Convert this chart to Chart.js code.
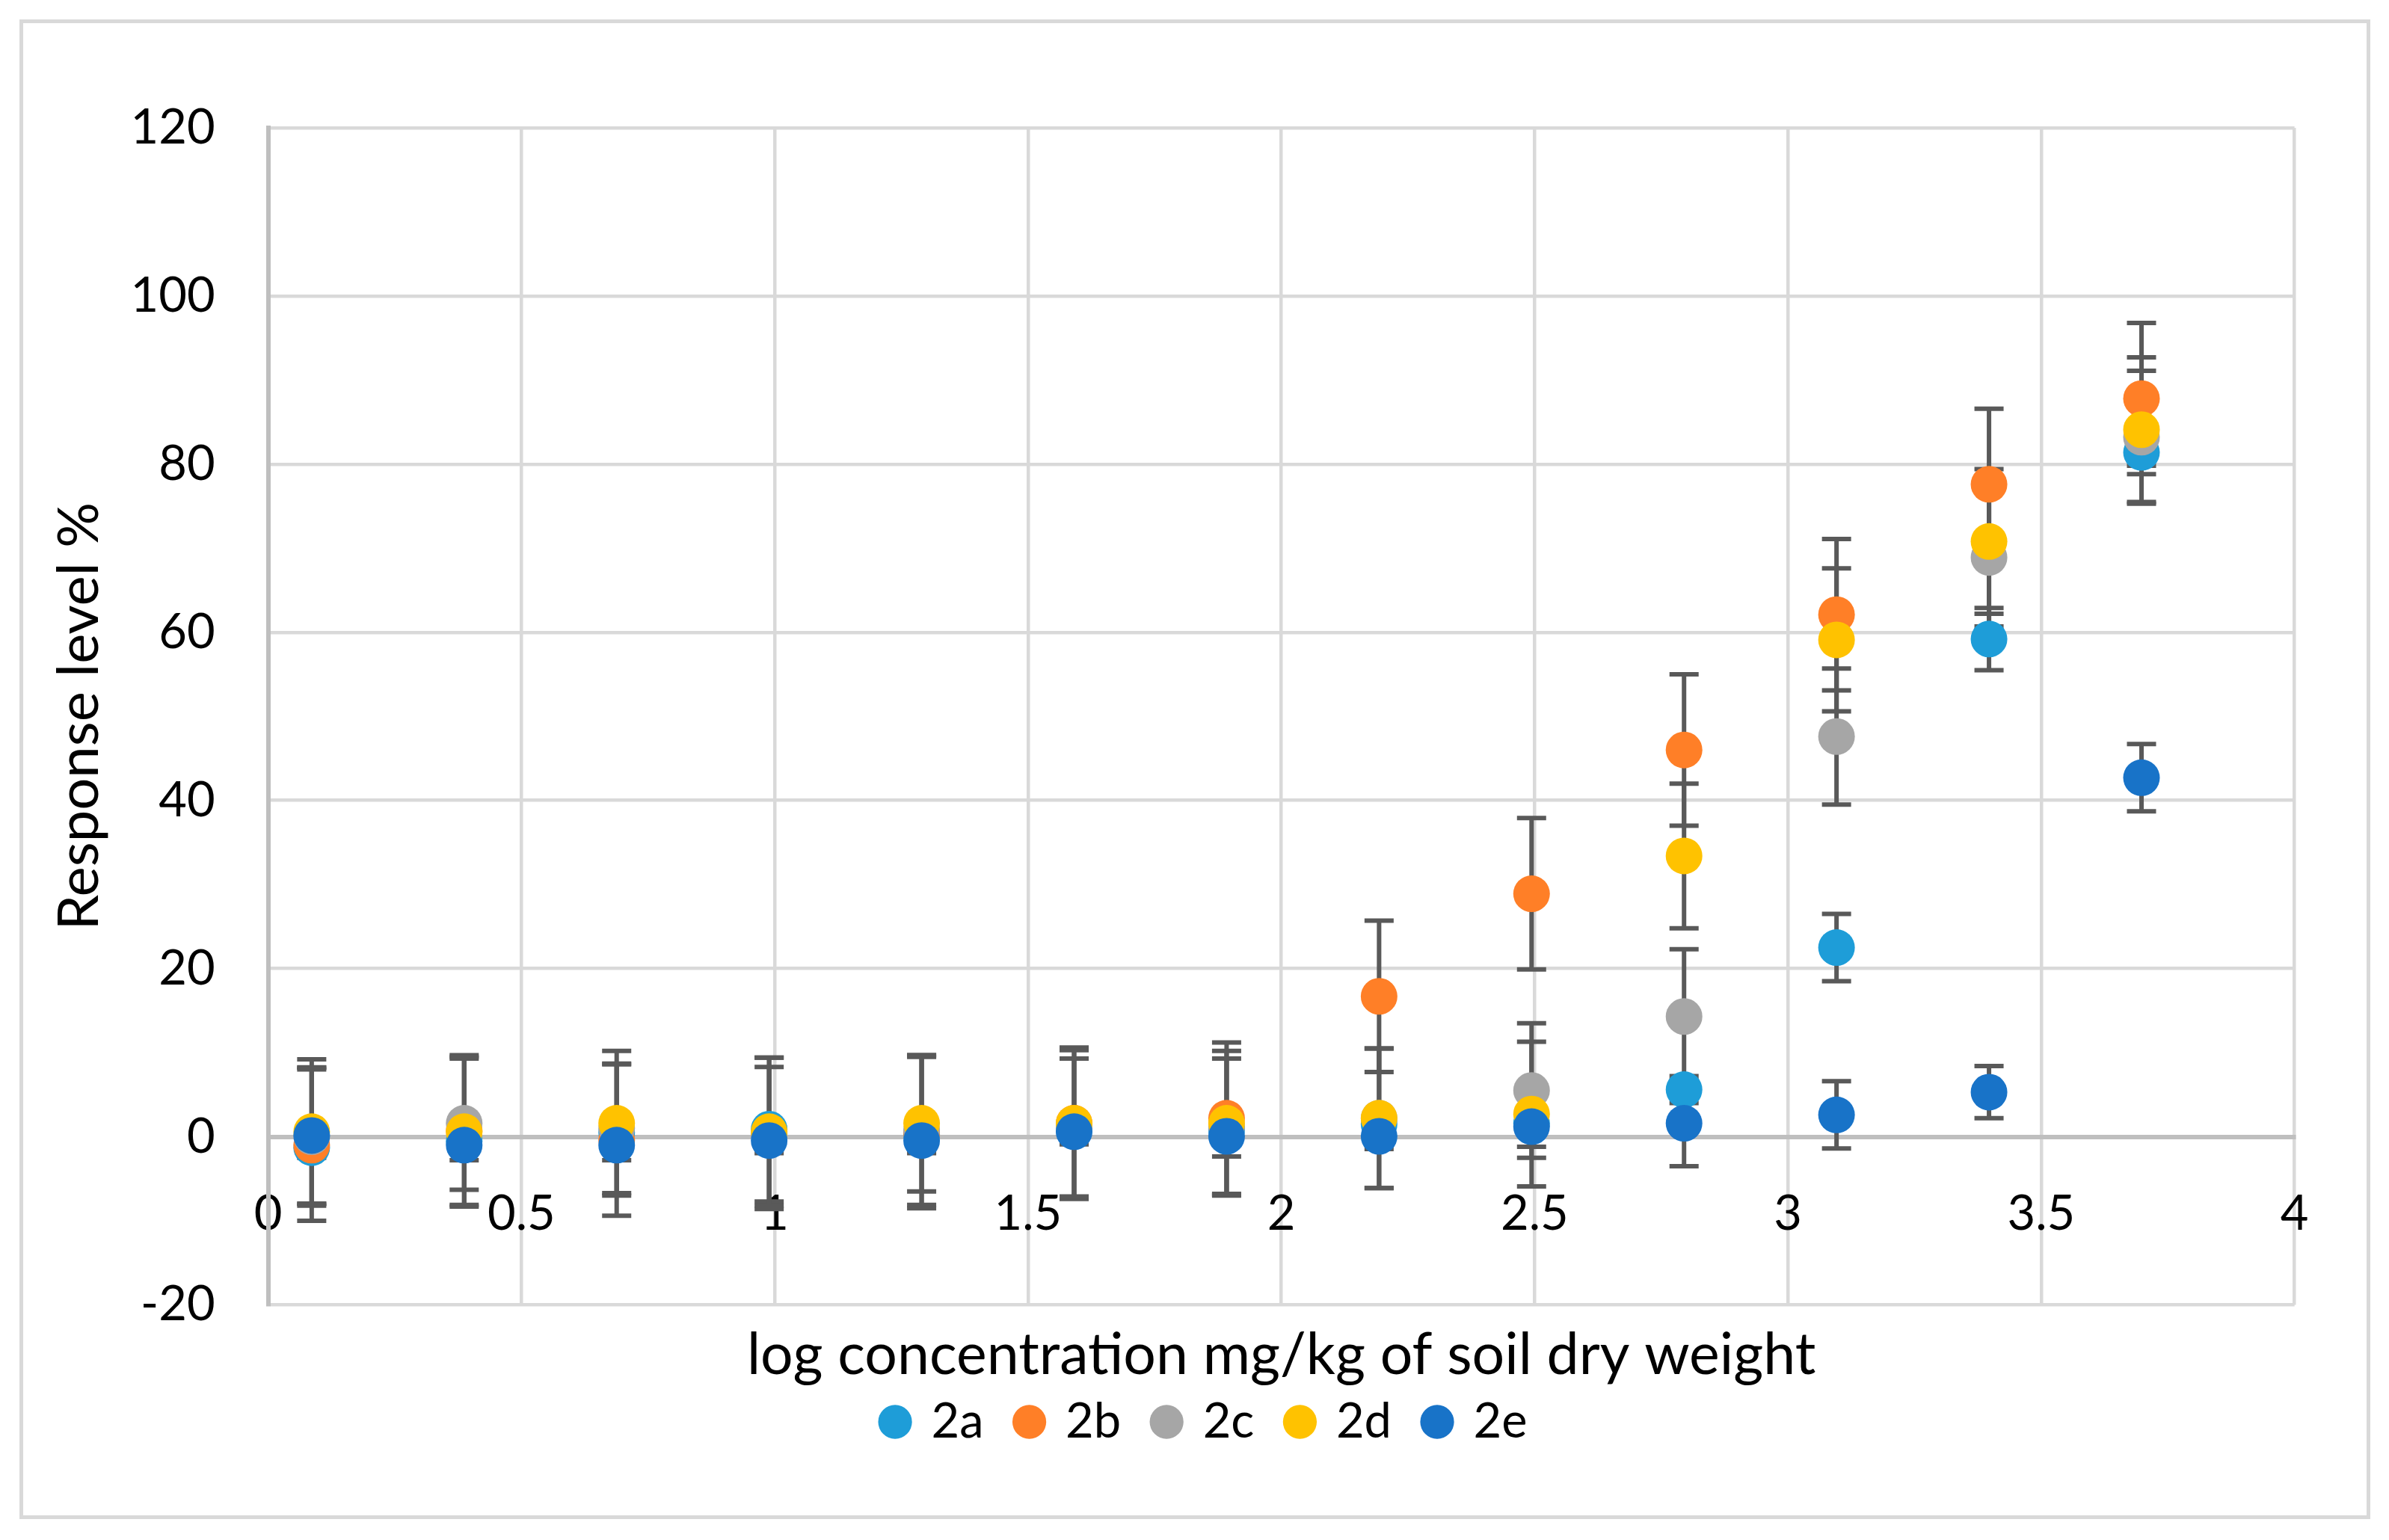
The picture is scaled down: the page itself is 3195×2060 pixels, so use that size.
<!DOCTYPE html>
<html>
<head>
<meta charset="utf-8">
<script src="https://cdn.jsdelivr.net/npm/chart.js@4"></script>
<style>
    html, body { margin: 0; padding: 0; background: #fff; }
    #wrap { position: relative; width: 3195px; height: 2060px; }
    #frame { position: absolute; left: 26px; top: 26px; width: 3134px; height: 1996px; border: 5px solid #d9d9d9; }
    canvas { position: absolute; left: 0; top: 0; }
</style>
</head>
<body>
<div id="wrap">
    <div id="frame"></div>
    <canvas id="chart1" width="3195" height="2060"></canvas>
</div>
<script>
// ===== Data =====
const xValues = [0.086, 0.387, 0.688, 0.989, 1.290, 1.591, 1.892, 2.193, 2.494, 2.795, 3.096, 3.397, 3.698];
const seriesNames = ["2a", "2b", "2c", "2d", "2e"];

const y2a = [-1.3, -0.5, 0.5, 0.9, 0.3, 0.8, 0.8, 1.5, 1.6, 5.6, 22.5, 59.2, 81.4];
const y2b = [-1.0, 0.7, -0.4, 0.4, 0.5, 1.6, 2.2, 16.7, 28.9, 46.0, 62.1, 77.6, 87.8];
const y2c = [0.0, 1.6, 1.0, 0.3, 0.8, 1.0, 1.2, 2.2, 5.5, 14.3, 47.6, 68.9, 83.2];
const y2d = [0.6, 0.6, 1.6, 0.6, 1.6, 1.6, 1.6, 2.2, 2.7, 33.4, 59.1, 70.8, 84.1];
const y2e = [0.15, -1.0, -1.0, -0.45, -0.45, 0.6, 0.05, 0.05, 1.2, 1.6, 2.6, 5.3, 42.7];

// error bar half-lengths
const e2a = [1.2, 1.0, 1.0, 1.0, 1.0, 1.0, 1.0, 1.5, 1.0, 1.6, 4.0, 3.7, 1.6];
const e2b = [9, 9, 9, 9, 9, 9, 9, 9, 9, 9, 9, 9, 9];
const e2c = [8.2, 7.9, 7.7, 8.0, 8.9, 8.3, 8.1, 8.3, 8.0, 8.0, 8.1, 8.2, 7.9];
const e2d = [8.6, 8.7, 8.6, 8.8, 8.1, 8.7, 8.6, 8.3, 8.6, 8.6, 8.5, 8.6, 8.6];
const e2e = [8.1, 1.8, 1.8, 1.5, 1.5, 1.5, 2.4, 1.5, 2.4, 5.1, 4.0, 3.1, 4.0];

const xTicks = [0, 0.5, 1, 1.5, 2, 2.5, 3, 3.5, 4];
const yTicks = [-20, 0, 20, 40, 60, 80, 100, 120];

const colors = ["#1e9dd8", "#ff7f27", "#a6a6a6", "#ffc200", "#1873c8"];
const yData = [y2a, y2b, y2c, y2d, y2e];
const errData = [e2a, e2b, e2c, e2d, e2e];

const FONT = "Lato";

// ===== Error bars =====
const errorBars = {
    id: "errorBars",
    beforeDatasetsDraw(chart) {
        const ctx = chart.ctx;
        const xs = chart.scales.x;
        const ys = chart.scales.y;
        ctx.save();
        ctx.strokeStyle = "#595959";
        ctx.lineWidth = 6;
        errData.forEach((errs, s) => {
            xValues.forEach((xv, i) => {
                const px = xs.getPixelForValue(xv);
                const top = ys.getPixelForValue(yData[s][i] + errs[i]);
                const bot = ys.getPixelForValue(yData[s][i] - errs[i]);
                ctx.beginPath();
                ctx.moveTo(px, top);
                ctx.lineTo(px, bot);
                ctx.moveTo(px - 19.5, top);
                ctx.lineTo(px + 19.5, top);
                ctx.moveTo(px - 19.5, bot);
                ctx.lineTo(px + 19.5, bot);
                ctx.stroke();
            });
        });
        ctx.restore();
    }
};

// ===== Chart =====
const datasets = seriesNames.map((name, s) => ({
    label: name,
    data: xValues.map((xv, i) => ({x: xv, y: yData[s][i]})),
    backgroundColor: colors[s],
    borderColor: colors[s],
    borderWidth: 0,
    pointRadius: 24.5,
    pointBorderWidth: 0,
    pointStyle: "circle",
    order: seriesNames.length - s
}));

const chart1 = new Chart(document.getElementById("chart1"), {
    type: "scatter",
    data: { datasets: datasets },
    options: {
        responsive: false,
        animation: false,
        devicePixelRatio: 1,
        layout: { padding: { left: 155, right: 126.4, top: 171, bottom: 115.5 } },
        plugins: {
            tooltip: { enabled: false },
            legend: {
                position: "bottom",
                labels: {
                    usePointStyle: true,
                    boxWidth: 32,
                    boxHeight: 32,
                    padding: 45,
                    color: "#000",
                    font: { family: FONT, size: 65 },
                    sort: (a, b) => a.datasetIndex - b.datasetIndex
                }
            }
        },
        scales: {
            x: {
                type: "linear",
                position: { y: 0 },
                min: 0,
                max: 4,
                afterBuildTicks: s => { s.ticks = xTicks.map(v => ({value: v})); },
                grid: { color: "#d9d9d9", lineWidth: 4.5, drawTicks: false },
                border: { color: "#bfbfbf", width: 6 },
                ticks: {
                    color: "#000", padding: 64, maxRotation: 0,
                    font: { family: FONT, size: 65 },
                    callback: v => String(v)
                }
            },
            x2: {
                type: "linear",
                position: "bottom",
                min: 0,
                max: 4,
                grid: { display: false, drawTicks: false },
                border: { display: false },
                ticks: { display: false },
                afterFit: s => { s.height = 79; },
                title: {
                    display: true,
                    text: "log concentration mg/kg of soil dry weight",
                    color: "#000",
                    padding: { top: 0, bottom: -34.6 },
                    font: { family: FONT, size: 77 }
                }
            },
            y: {
                type: "linear",
                position: "left",
                min: -20,
                max: 120,
                afterBuildTicks: s => { s.ticks = yTicks.map(v => ({value: v})); },
                afterFit: s => { s.width = 203.6; },
                grid: { color: "#d9d9d9", lineWidth: 4.5, drawTicks: false },
                border: { color: "#bfbfbf", width: 6 },
                ticks: { color: "#000", padding: 71, font: { family: FONT, size: 65 } },
                title: {
                    display: true,
                    text: "Response level %",
                    color: "#000",
                    padding: { top: -94.6, bottom: 0 },
                    font: { family: FONT, size: 76 }
                }
            }
        }
    },
    plugins: [errorBars]
});
</script>
</body>
</html>
